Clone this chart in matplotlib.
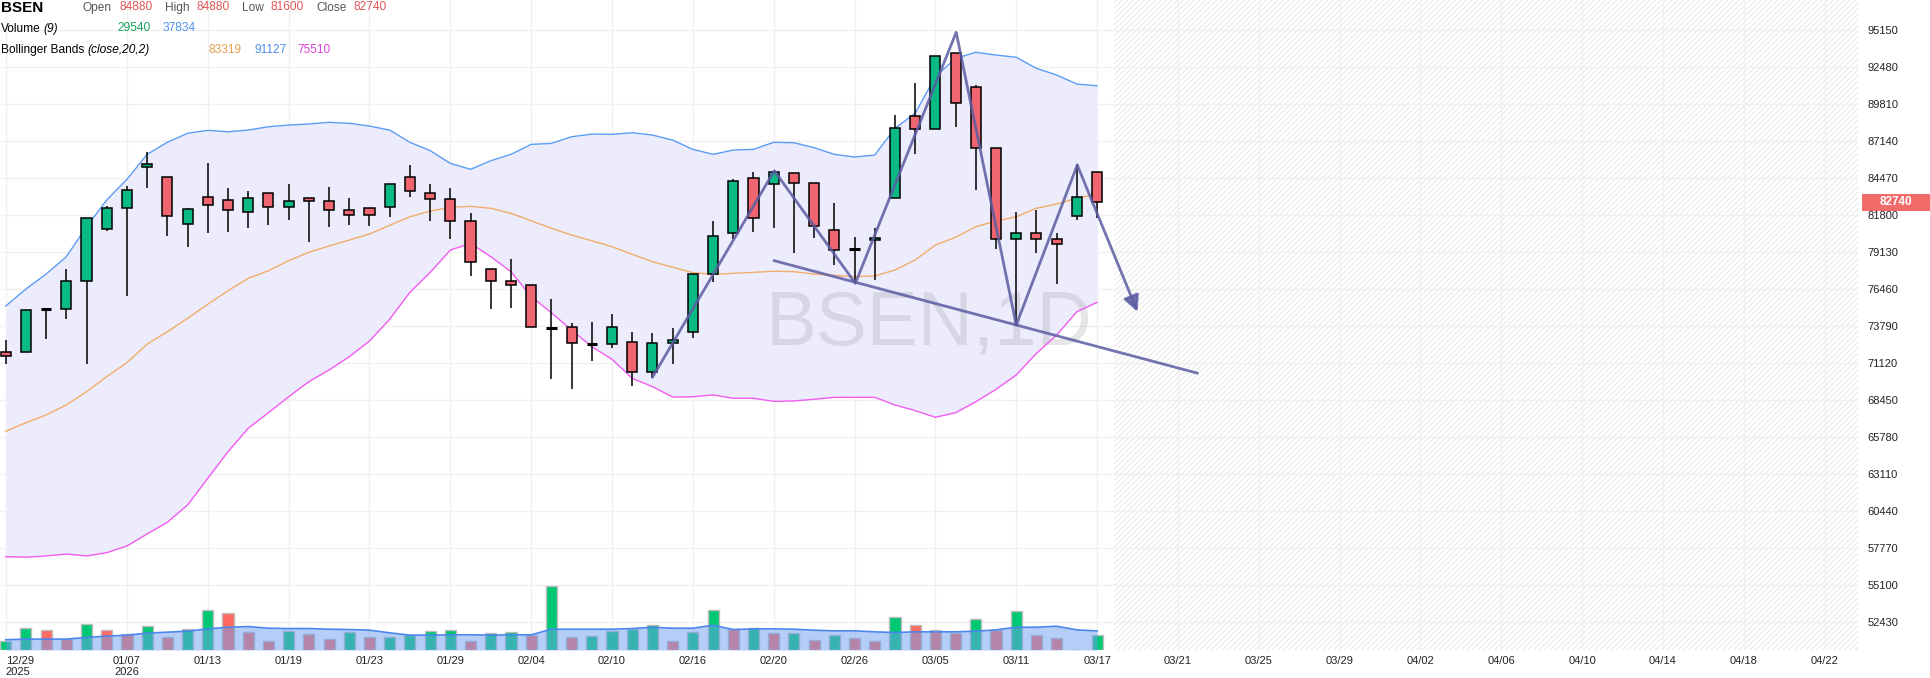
import matplotlib.pyplot as plt
import matplotlib.transforms as mtransforms
from matplotlib.patches import Rectangle

plt.rcParams['font.family'] = ['Liberation Sans', 'DejaVu Sans']
plt.rcParams['hatch.linewidth'] = 0.6

# daily candles (trading-day index 0 = 12/29)
opens = [71910, 71910, 75010, 75010, 77030, 80770, 82290, 85240, 84520, 81130,
         83080, 82870, 82000, 83370, 82360, 83010, 82790, 82140, 82290, 82360,
         84520, 83370, 82940, 81350, 77890, 77030, 76740, 73680, 73710, 72530,
         72480, 72630, 70460, 72560, 73350, 77530, 80490, 84450, 84020, 84810,
         84090, 80700, 79330, 79980, 83010, 88920, 87980, 93460, 91010, 86610,
         80050, 80490, 80050, 81710, 84880]
highs = [72810, 74930, 75010, 77890, 81570, 82450, 83880, 86370, 84520, 82290,
         85530, 83730, 83510, 83370, 84020, 83010, 83800, 83010, 82290, 84020,
         85390, 84020, 83730, 81930, 77890, 78610, 76740, 75770, 74000, 74070,
         74650, 73350, 73280, 73640, 77530, 81350, 84420, 84880, 84880, 84810,
         84090, 82650, 80240, 80890, 89020, 91300, 93250, 93500, 91180, 86610,
         82000, 82190, 80490, 85410, 84880]
lows = [71040, 71910, 72840, 74330, 71040, 80670, 75990, 83770, 80310, 79520,
        80530, 80600, 80890, 81110, 81420, 79880, 80960, 81110, 81030, 81680,
        83080, 81350, 80050, 77430, 75010, 75080, 73710, 69960, 69240, 71260,
        72240, 69500, 70030, 71040, 72960, 77000, 80050, 80560, 80850, 79040,
        80130, 78180, 76880, 77100, 83010, 86180, 87980, 88130, 83590, 79330,
        73870, 79040, 76850, 81420, 81600]
closes = [71620, 74930, 75010, 77030, 81570, 82290, 83590, 85460, 81710, 82220,
          82510, 82140, 83010, 82360, 82790, 82790, 82140, 81780, 81780, 84020,
          83510, 82940, 81350, 78390, 77030, 76740, 73710, 73680, 72560, 72530,
          73710, 70460, 72560, 72770, 77530, 80270, 84240, 81570, 84880, 84090,
          80990, 79260, 79330, 80130, 88060, 87980, 93250, 89860, 86610, 80050,
          80490, 80050, 79690, 83080, 82740]

# Bollinger Bands (close,20,2)
bb_upper = [75240, 76470, 77550, 78800, 80960, 82890, 84380, 86180, 87050, 87700,
            87910, 87810, 87930, 88170, 88290, 88370, 88490, 88420, 88220, 87930,
            87050, 86450, 85530, 85100, 85720, 86180, 86900, 86970, 87450, 87640,
            87620, 87740, 87570, 87210, 86540, 86180, 86490, 86540, 87050, 87020,
            86660, 86180, 85990, 86130, 88060, 89140, 91780, 93100, 93540, 93340,
            93180, 92380, 91900, 91250, 91127]
bb_mid = [66210, 66830, 67390, 68110, 69070, 70150, 71160, 72500, 73390, 74360,
          75370, 76350, 77240, 77790, 78510, 79120, 79570, 80000, 80440, 81060,
          81680, 82090, 82360, 82430, 82290, 81930, 81390, 80850, 80360, 79950,
          79520, 78970, 78440, 78040, 77650, 77530, 77600, 77670, 77750, 77720,
          77550, 77460, 77360, 77410, 77840, 78560, 79640, 80200, 80960, 81370,
          81680, 82290, 82600, 83010, 83319]
bb_lower = [57170, 57130, 57220, 57360, 57220, 57460, 57940, 58810, 59650, 60900,
            62820, 64740, 66430, 67550, 68700, 69790, 70630, 71590, 72720, 74290,
            76230, 77660, 79280, 79760, 78800, 77720, 75920, 74760, 73510, 72310,
            71400, 70030, 69430, 68680, 68700, 68830, 68590, 68590, 68370, 68400,
            68520, 68660, 68660, 68660, 68110, 67700, 67220, 67550, 68340, 69240,
            70270, 71830, 73150, 74830, 75510]

volume = [18370, 43300, 39360, 20990, 51170, 39360, 31490, 47230, 25580, 41330,
          78720, 73470, 35420, 17710, 37390, 31490, 21650, 36080, 25580, 25580,
          29520, 37390, 39360, 17710, 33460, 36080, 29520, 127920, 26240, 27550,
          37390, 42640, 49200, 18370, 35420, 78720, 41330, 43300, 33460, 33460,
          20340, 29520, 24270, 18370, 64940, 49200, 39360, 34110, 61010, 40020,
          76750, 29520, 24270, 0, 29540]
volume_up = [1, 1, 0, 0, 1, 0, 0, 1, 0, 1, 1, 0, 0, 0, 1, 0, 0, 1, 0, 1,
             1, 1, 1, 0, 1, 1, 0, 1, 0, 1, 1, 1, 1, 0, 1, 1, 0, 1, 0, 1,
             0, 1, 0, 0, 1, 0, 0, 0, 1, 0, 1, 0, 0, 0, 1]
volume_ma = [20340, 21650, 21650, 21650, 24930, 27550, 29520, 33460, 35420, 37390,
             41980, 45260, 46580, 43300, 42640, 42640, 41330, 40670, 39360, 34110,
             29520, 29520, 30180, 30180, 29520, 30180, 30180, 41330, 41330, 41330,
             41330, 42640, 45260, 43300, 43300, 49200, 40670, 41980, 41980, 41330,
             39360, 38050, 38050, 36080, 34770, 36080, 36080, 36080, 37390, 40020,
             45260, 45260, 47230, 40020, 37834]

xtick_pos = [0, 6, 10, 14, 18, 22, 26, 30, 34, 38, 42, 46, 50, 54,
             58, 62, 66, 70, 74, 78, 82, 86, 90]
xtick_labels = ['12/29\n2025', '01/07\n2026', '01/13', '01/19', '01/23', '01/29',
                '02/04', '02/10', '02/16', '02/20', '02/26', '03/05', '03/11',
                '03/17', '03/21', '03/25', '03/29', '04/02', '04/06', '04/10',
                '04/14', '04/18', '04/22']
ytick_vals = [52430, 55100, 57770, 60440, 63110, 65780, 68450, 71120, 73790,
              76460, 79130, 81800, 84470, 87140, 89810, 92480, 95150]

# hand-drawn zigzag and trend line (index, price)
zig_x = [32.0, 38.03, 42.04, 47.03, 50.0, 53.02]
zig_y = [70100, 85000, 76880, 94980, 73870, 85410]
arrow_end = (56.0, 74830)
trend_x = [38.03, 58.95]
trend_y = [78510, 70410]

GREEN = '#0bb985'
RED = '#ef6670'

W, H = 1931, 678
fig = plt.figure(figsize=(W / 100, H / 100), dpi=100)
rect = [0, 28 / H, 1858 / W, 650 / H]
ax = fig.add_axes(rect)
ax.set_xlim(-0.282, 91.65)
ax.set_ylim(50440, 97310)
for s in ax.spines.values():
    s.set_visible(False)

idx = list(range(len(closes)))

# future area hatch
ax.axvspan(54.84, 91.65, facecolor='none', edgecolor='#e4e4e4', hatch='//////',
           linewidth=0, zorder=0.5)

# bollinger bands
ax.fill_between(idx, bb_lower, bb_upper, color='#ececfc', lw=0, zorder=1)
ax.plot(idx, bb_upper, color='#5b9cf6', lw=1.0, zorder=2)
ax.plot(idx, bb_mid, color='#f2ad6a', lw=1.0, zorder=2)
ax.plot(idx, bb_lower, color='#f25cf0', lw=1.0, zorder=2)

ax.text(0.5, 0.5, 'BSEN,1D', transform=ax.transAxes, fontsize=55, color='#777777',
        alpha=0.18, ha='center', va='center', zorder=1.5)

# candles
ax.vlines(idx, lows, highs, color='black', lw=1.1, zorder=3)
for i in idx:
    o, c = opens[i], closes[i]
    if o == c:
        ax.hlines(o, i - 0.26, i + 0.26, color='black', lw=2.2, zorder=4)
        continue
    col = GREEN if c > o else RED
    ax.bar(i, abs(c - o), bottom=min(o, c), width=0.5, color=col,
           edgecolor='black', linewidth=1.1, zorder=4)

# drawings
ax.plot(zig_x + [arrow_end[0]], zig_y + [arrow_end[1]], alpha=0)
ax.plot(zig_x, zig_y, color='#5c5ca3', lw=2.0, alpha=0.85, zorder=5,
        solid_capstyle='round', solid_joinstyle='round')
ax.annotate('', xy=arrow_end, xytext=(zig_x[-1], zig_y[-1]),
            arrowprops=dict(arrowstyle='-|>', color='#5c5ca3', lw=2.0, alpha=0.85,
                            mutation_scale=24, shrinkA=0, shrinkB=0), zorder=5)
ax.plot(trend_x, trend_y, color='#5c5ca3', lw=2.0, alpha=0.85, zorder=5)

# axes styling
ax.set_xticks(xtick_pos)
ax.set_xticklabels(xtick_labels)
ax.get_xticklabels()[0].set_ha('left')
ax.set_yticks(ytick_vals)
ax.yaxis.tick_right()
ax.tick_params(axis='x', length=0, pad=4, labelsize=8, colors='#222222')
ax.tick_params(axis='y', length=0, pad=7, labelsize=8, colors='#222222')
ax.grid(True, color='#f0f0f0', lw=1)
ax.set_axisbelow(True)

# volume pane overlay
vax = fig.add_axes(rect, sharex=ax)
vax.patch.set_visible(False)
vax.set_ylim(0, 1292000)
vax.axis('off')
vcols = ['#00c873' if u else '#ff6b62' for u in volume_up]
vax.bar(idx, volume, width=0.55, color=vcols, edgecolor='#bdbdbd', linewidth=1.0,
        zorder=2)
vax.fill_between(idx, 0, volume_ma, color='#6d9ef0', alpha=0.5, lw=0, zorder=3)
vax.plot(idx, volume_ma, color='#4a86ee', lw=1.2, zorder=4)

# last price tag on the price scale
tr = mtransforms.blended_transform_factory(ax.transAxes, ax.transData)
ax.add_patch(Rectangle((1862 / 1858, closes[-1] - 610), 69 / 1858, 1220,
                       transform=tr, facecolor='#f26b6b', edgecolor='none',
                       clip_on=False, zorder=6))
ax.text(1896 / 1858, closes[-1], f'{closes[-1]}', transform=tr, color='white',
        fontsize=8.5, fontweight='bold', ha='center', va='center', zorder=7,
        clip_on=False)

# top-left legend
def ftext(x, y, s, **kw):
    fig.text(x / W, 1 - y / H, s, va='center', ha='left', **kw)

ftext(1, 8, 'BSEN', fontsize=11, fontweight='bold', color='black')
ftext(83, 8, 'Open', fontsize=8.6, color='#555555')
ftext(120, 7, f'{opens[-1]}', fontsize=8.6, color='#e05656')
ftext(165, 8, 'High', fontsize=8.6, color='#555555')
ftext(197, 7, f'{highs[-1]}', fontsize=8.6, color='#e05656')
ftext(242, 8, 'Low', fontsize=8.6, color='#555555')
ftext(271, 7, f'{lows[-1]}', fontsize=8.6, color='#e05656')
ftext(316, 8, 'Close', fontsize=8.6, color='#555555')
ftext(354, 7, f'{closes[-1]}', fontsize=8.6, color='#e05656')

ftext(1, 29, 'Volume', fontsize=8.6, color='black')
ftext(43, 29, '(9)', fontsize=8.6, color='black', style='italic')
ftext(117, 28, f'{volume[-1]}', fontsize=8.6, color='#17a45c')
ftext(163, 28, f'{volume_ma[-1]}', fontsize=8.6, color='#4d8fea')

ftext(1, 50, 'Bollinger Bands', fontsize=8.6, color='black')
ftext(87, 50, '(close,20,2)', fontsize=8.6, color='black', style='italic')
ftext(209, 50, f'{bb_mid[-1]}', fontsize=8.6, color='#e3a050')
ftext(255, 50, f'{bb_upper[-1]}', fontsize=8.6, color='#4d8fea')
ftext(297, 50, f'{bb_lower[-1]}', fontsize=8.6, color='#e040d8')

fig.savefig('out.png', dpi=100)
